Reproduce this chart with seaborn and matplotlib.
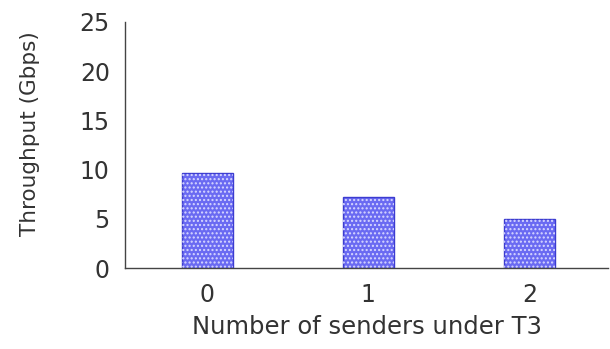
import matplotlib
matplotlib.use("Agg")
import matplotlib.pyplot as plt
import seaborn as sns
import pandas as pd

# Throughput per number of senders under T3
senders = ["0", "1", "2"]
throughput = [9.7, 7.2, 4.95]
y_ticks = [0, 5, 10, 15, 20, 25]

df = pd.DataFrame({"senders": senders, "throughput": throughput})

sns.set_style("white")
plt.rcParams["font.family"] = ["DejaVu Sans"]
plt.rcParams["hatch.linewidth"] = 1.0

fig = plt.figure(figsize=(6.10, 3.49), dpi=100)
ax = fig.add_axes([0.205, 0.232, 0.792, 0.705])

# solid blue bars with outline
sns.barplot(data=df, x="senders", y="throughput", ax=ax, width=0.315,
            color="#6a6af2", saturation=1, edgecolor="#3c3cd0", linewidth=1.0)
n_base = len(ax.patches)

# white dotted texture layered on top
sns.barplot(data=df, x="senders", y="throughput", ax=ax, width=0.315,
            color="none", saturation=1, edgecolor="#d8d8ff", linewidth=0)
for p in ax.patches[n_base:]:
    p.set_facecolor("none")
    p.set_hatch("....")
    p.set_linewidth(0)

ax.set_xlim(-0.51, 2.49)
ax.set_ylim(0, 25)
ax.set_yticks(y_ticks)
ax.set_yticklabels([str(t) for t in y_ticks])

ax.set_xlabel("Number of senders under T3", fontsize=17.5, color="#333333")
ax.set_ylabel("Throughput (Gbps)", fontsize=15.5, color="#333333")
ax.xaxis.set_label_coords(0.5, -0.19)
ax.yaxis.set_label_coords(-0.176, 0.545)

ax.tick_params(axis="y", direction="in", length=5, width=0.8, color="#555555",
               labelsize=17, labelcolor="#333333", pad=11)
ax.tick_params(axis="x", length=0, labelsize=17, labelcolor="#333333", pad=11)

for side in ["top", "right"]:
    ax.spines[side].set_visible(False)
for side in ["left", "bottom"]:
    ax.spines[side].set_color("#444444")
    ax.spines[side].set_linewidth(1.0)

fig.savefig("out.png", dpi=100, facecolor="white")
